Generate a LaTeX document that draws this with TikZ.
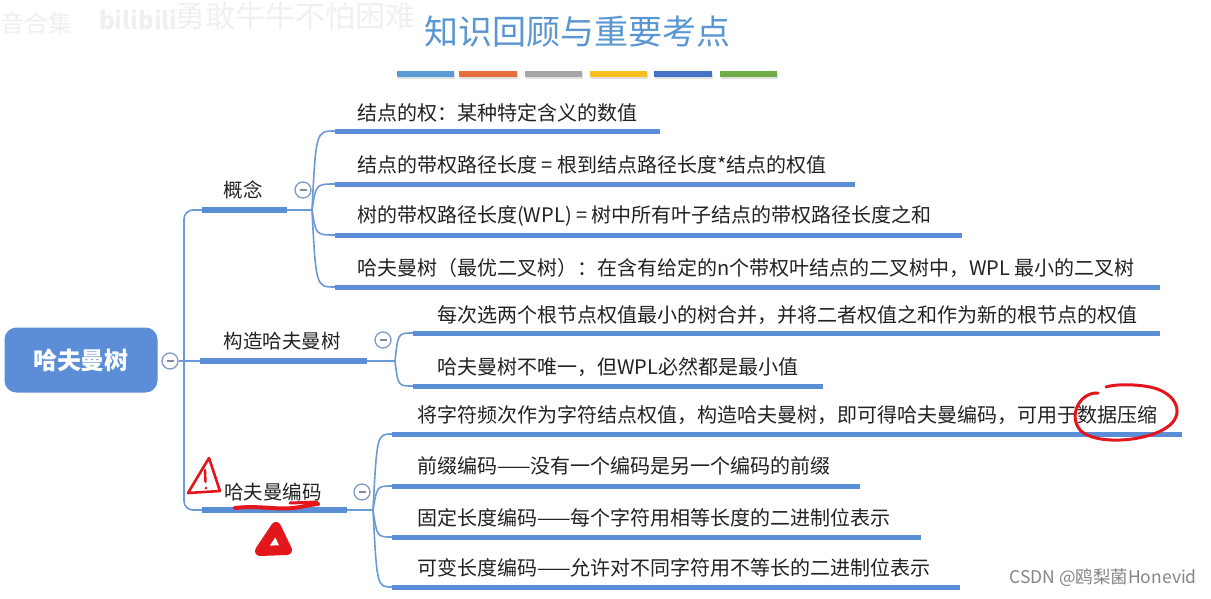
\documentclass[tikz,border=0pt]{standalone}
\usepackage{fontspec}
\newfontfamily\cjk{Noto Sans CJK SC}
\definecolor{mmblue}{HTML}{5B8ED6}
\definecolor{lnblue}{HTML}{6A9AD8}
\definecolor{foldc}{HTML}{7F9AC6}
\definecolor{titleblue}{HTML}{5A96D2}
\definecolor{txt}{HTML}{222222}
\definecolor{annot}{HTML}{E3161B}
\definecolor{barA}{HTML}{5B9BD5}
\definecolor{barB}{HTML}{E5703A}
\definecolor{barC}{HTML}{A5A5A5}
\definecolor{barD}{HTML}{F7BE1D}
\definecolor{barE}{HTML}{4472C4}
\definecolor{barF}{HTML}{70AD47}
\tikzset{
  leaf/.style={anchor=west, inner sep=0pt, text=txt, font=\cjk\fontsize{20}{22}\selectfont},
  branch/.style={inner sep=0pt, text=txt, font=\cjk\fontsize{19.5}{22}\selectfont},
  rootbox/.style={fill=mmblue, rounded corners=12pt, minimum width=153pt, minimum height=65pt, text=white, font=\cjk\bfseries\fontsize{24}{26}\selectfont},
  titlestyle/.style={text=titleblue, font=\cjk\fontsize{34}{36}\selectfont},
  fold/.style={circle, draw=foldc, line width=1.3pt, fill=white, minimum size=16pt, inner sep=0pt,
    path picture={\draw[line width=1.4pt, gray!60!foldc] (path picture bounding box.west) ++(4.5,0) -- ++(7,0);}},
  conn/.style={draw=lnblue, line width=1.6pt},
  bline/.style={draw=mmblue, line width=5.5pt},
  lline/.style={draw=mmblue, line width=5pt},
  redmark/.style={draw=annot, line cap=round, line join=round},
  wm/.style={inner sep=0pt, text=black!6, font=\cjk\fontsize{30}{32}\selectfont}
}
\begin{document}
\begin{tikzpicture}[x=1pt,y=-1pt]
\useasboundingbox (0,0) rectangle (1211,598);
\fill[white] (0,0) rectangle (1211,598);

% watermarks
\node[wm, anchor=west, font=\cjk\fontsize{24}{26}\selectfont] (wmA) at (0,23) {音合集};
\node[wm, anchor=west] (wmC) at (175,16) {勇敢牛牛不怕困难};
\node[wm, anchor=west, fill=white, inner sep=1pt, font=\cjk\bfseries\fontsize{24}{26}\selectfont] (wmB) at (98,20) {bilibili};
\node[anchor=east, inner sep=0pt, text=black!48, font=\cjk\fontsize{17.5}{20}\selectfont] (csdn) at (1197,578) {CSDN @鸥梨菌Honevid};

% title
\node[titlestyle] (title) at (577,32) {知识回顾与重要考点};
\foreach \xa/\xb/\c in {397/454/barA,459/517/barB,525/582/barC,590/647/barD,654/712/barE,720/777/barF}{
  \fill[black!12] (\xa+1,72.5) rectangle (\xb+1,78.5);
  \fill[\c] (\xa,71) rectangle (\xb,77);
}

% root
\node[rootbox] (root) at (81,360) {哈夫曼树};
\node[fold] (f0) at (170,361) {};

% main branch coordinates
\coordinate (b1s) at (202,210); \coordinate (b1e) at (287,210); \coordinate (o1) at (312,210);
\coordinate (b2s) at (200,361); \coordinate (b2e) at (367,361); \coordinate (o2) at (395,361);
\coordinate (b3s) at (202,510); \coordinate (b3e) at (347,510); \coordinate (o3) at (373,510);
\coordinate (tr) at (184,361);

\draw[conn] (f0.east) -- (b2s);
\draw[conn, rounded corners=9pt] (b1s) -| (tr) |- (b3s);

\draw[bline] (b1s) -- (b1e);
\draw[bline] (b2s) -- (b2e);
\draw[bline] (b3s) -- (b3e);
\draw[conn] (b1e) -- (o1);
\draw[conn] (b2e) -- (o2);
\draw[conn] (b3e) -- (o3);

\node[branch] (n1) at (243,190) {概念};
\node[branch] (n2) at (282,341) {构造哈夫曼树};
\node[branch] (n3) at (273,492) {哈夫曼编码};
\node[fold] (f1) at (303,190) {};
\node[fold] (f2) at (383,340) {};
\node[fold] (f3) at (362,492) {};

% leaves of 概念
\coordinate (a1s) at (335,131); \coordinate (a1e) at (660,131);
\coordinate (a2s) at (335,184); \coordinate (a2e) at (855,184);
\coordinate (a3s) at (335,235); \coordinate (a3e) at (962,235);
\coordinate (a4s) at (335,287); \coordinate (a4e) at (1160,287);
\draw[conn] (o1) .. controls (316,131) .. (a1s);
\draw[conn] (o1) .. controls (316,184) .. (a2s);
\draw[conn] (o1) .. controls (316,235) .. (a3s);
\draw[conn] (o1) .. controls (316,287) .. (a4s);
\draw[lline] (a1s) -- (a1e);
\draw[lline] (a2s) -- (a2e);
\draw[lline] (a3s) -- (a3e);
\draw[lline] (a4s) -- (a4e);
\node[leaf] (a1) at (357,113) {结点的权：某种特定含义的数值};
\node[leaf] (a2) at (357,165) {结点的带权路径长度 = 根到结点路径长度*结点的权值};
\node[leaf] (a3) at (357,216) {树的带权路径长度(WPL) = 树中所有叶子结点的带权路径长度之和};
\node[leaf] (a4) at (357,268) {哈夫曼树（最优二叉树）：在含有给定的n个带权叶结点的二叉树中，WPL 最小的二叉树};

% leaves of 构造哈夫曼树
\coordinate (c1s) at (413,333); \coordinate (c1e) at (1160,333);
\coordinate (c2s) at (413,386); \coordinate (c2e) at (823,386);
\draw[conn] (o2) .. controls (398,333) .. (c1s);
\draw[conn] (o2) .. controls (398,386) .. (c2s);
\draw[lline] (c1s) -- (c1e);
\draw[lline] (c2s) -- (c2e);
\node[leaf] (c1) at (437,315) {每次选两个根节点权值最小的树合并，并将二者权值之和作为新的根节点的权值};
\node[leaf] (c2) at (437,367) {哈夫曼树不唯一，但WPL必然都是最小值};

% leaves of 哈夫曼编码
\coordinate (d1s) at (392,434); \coordinate (d1e) at (1182,434);
\coordinate (d2s) at (392,486); \coordinate (d2e) at (860,486);
\coordinate (d3s) at (392,537); \coordinate (d3e) at (921,537);
\coordinate (d4s) at (392,587); \coordinate (d4e) at (960,587);
\draw[conn] (o3) .. controls (377,434) .. (d1s);
\draw[conn] (o3) .. controls (377,486) .. (d2s);
\draw[conn] (o3) .. controls (377,537) .. (d3s);
\draw[conn] (o3) .. controls (377,587) .. (d4s);
\draw[lline] (d1s) -- (d1e);
\draw[lline] (d2s) -- (d2e);
\draw[lline] (d3s) -- (d3e);
\draw[lline] (d4s) -- (d4e);
\node[leaf] (d1) at (417,415) {将字符频次作为字符结点权值，构造哈夫曼树，即可得哈夫曼编码，可用于数据压缩};
\node[leaf] (d2) at (417,466) {前缀编码——没有一个编码是另一个编码的前缀};
\node[leaf] (d3) at (417,518) {固定长度编码——每个字符用相等长度的二进制位表示};
\node[leaf] (d4) at (417,568) {可变长度编码——允许对不同字符用不等长的二进制位表示};

% red annotations
\draw[redmark, line width=2.6pt] (209,458) -- (188,493) -- (220,491) -- cycle;
\draw[redmark, line width=2.4pt] (205,470) -- (205.5,482);
\fill[annot] (206,488) circle (1.5pt);
\draw[redmark, line width=4pt] (235,508) .. controls (260,505) and (280,511) .. (300,507) .. controls (310,505) and (316,504) .. (318,504);
\draw[redmark, line width=3pt] (290,503) -- (317,502);
\draw[redmark, line width=10pt] (276,527) -- (260,551) -- (287,550) -- cycle;
\draw[redmark, line width=3pt] (1098,393) .. controls (1080,392) and (1068,415) .. (1080,430)
  .. controls (1095,446) and (1150,442) .. (1170,425)
  .. controls (1185,412) and (1175,392) .. (1150,387)
  .. controls (1135,384) and (1115,384) .. (1106,387);
\end{tikzpicture}
\end{document}
